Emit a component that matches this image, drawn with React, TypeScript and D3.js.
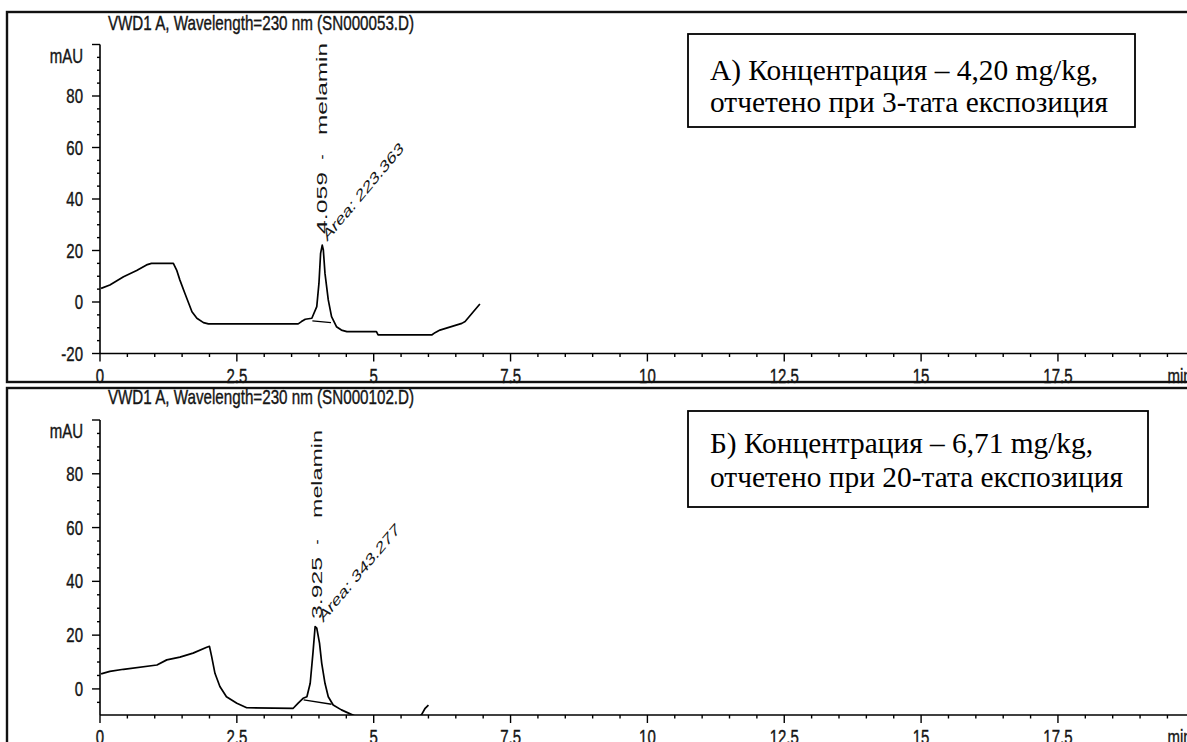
import * as d3 from 'd3';

// x tick values (min) and labels
const xTicks = [0, 2.5, 5, 7.5, 10, 12.5, 15, 17.5];
const xTickLabels = ['0', '2.5', '5', '7.5', '10', '12.5', '15', '17.5'];

// panel A trace, SN000053.D
const timeA = [0.02, 0.18, 0.43, 0.67, 0.85, 0.94, 1.34, 1.40, 1.46, 1.55, 1.68, 1.77, 1.89, 1.98, 3.62, 3.68, 3.75, 3.87, 3.96, 4.00, 4.03, 4.06, 4.08, 4.11, 4.17, 4.23, 4.32, 4.41, 4.51, 5.05, 5.08, 6.06, 6.12, 6.21, 6.61, 6.67, 6.82, 6.94];
const mauA = [5.3, 6.6, 9.8, 12.2, 14.4, 15.0, 15.0, 12.4, 8.5, 3.4, -3.8, -6.3, -8.0, -8.5, -8.5, -7.6, -6.7, -6.3, -1.8, 7.3, 18.9, 22.1, 20.2, 11.1, 0.8, -5.7, -9.6, -10.9, -11.5, -11.5, -12.8, -12.8, -11.9, -10.9, -8.3, -7.6, -3.8, -0.8];
const baseTimeA = [3.88, 4.22];
const baseMauA = [-7.3, -8.0];

// panel B trace, SN000102.D
const timeB = [0.02, 0.18, 0.43, 1.04, 1.22, 1.46, 1.70, 1.95, 2.0, 2.04, 2.1, 2.19, 2.31, 2.5, 2.68, 3.53, 3.62, 3.71, 3.78, 3.84, 3.89, 3.93, 3.96, 4.01, 4.05, 4.11, 4.17, 4.26, 4.41, 4.54, 4.63, 4.8, 5.5, 5.8, 5.88, 5.94, 6.0];
const mauB = [5.6, 6.5, 7.3, 8.9, 10.8, 11.8, 13.3, 15.5, 15.8, 12.0, 5.8, 0.9, -2.9, -5.3, -7.0, -7.2, -5.3, -3.5, -2.9, 2.1, 13.3, 23.2, 22.6, 17.0, 9.6, 2.1, -2.9, -6.0, -7.8, -9.0, -9.8, -11.5, -12, -11, -9.4, -7.2, -6.0];
const baseTimeB = [3.72, 4.23];
const baseMauB = [-4.1, -5.7];

const titles = ['VWD1 A, Wavelength=230 nm (SN000053.D)', 'VWD1 A, Wavelength=230 nm (SN000102.D)'];
const retentionLabels = ['4.059', '3.925'];
const compound = 'melamin';
const areaLabels = ['Area: 223.363', 'Area: 343.277'];
const boxLines = [
    ['А) Концентрация – 4,20 mg/kg,', 'отчетено при 3-тата експозиция'],
    ['Б) Концентрация – 6,71 mg/kg,', 'отчетено при 20-тата експозиция'],
];

const SANS = 'Liberation Sans, Arial, sans-serif';
const SERIF = 'Liberation Serif, Times New Roman, serif';
const INK = '#151515';
const STRETCH = 1.45; // the source picture is taller than it is wide

const x = d3.scaleLinear().domain([0, 20]).range([100, 100 + 20 * 54.74]);

// stretched text
const SText = ({ x, y, sy = 1.3, anchor = 'middle', size = 15, dy = '0', children }: any) => (
    <g transform={`translate(${x},${y}) scale(1,${sy})`}>
        <text textAnchor={anchor} fontFamily={SANS} fontSize={size} dy={dy} fill={INK}
            stroke={INK} strokeWidth={0.3}>{children}</text>
    </g>
);

interface PanelProps {
    top: number;
    bottom: number;
    yDomain: [number, number];
    yRange: [number, number];
    majors: number[];
    minorFrom: number;
    times: number[];
    values: number[];
    baseT: number[];
    baseV: number[];
    idx: number;
    titleY: number;
    mauY: number;
    peak: { x: number; y: number; rtLen: number; dash: number; cmpOff: number; cmpLen: number };
    area: { x: number; y: number };
    box: { x: number; y: number; w: number; h: number; b1: number; b2: number; l1: number; l2: number };
}

const Panel = (p: PanelProps) => {
    const y = d3.scaleLinear().domain(p.yDomain).range(p.yRange);
    const axisY = p.yRange[0];
    const axisTop = p.yRange[1];
    const line = d3.line<number>().x((_, i) => x(p.times[i])).y(v => y(v));
    const baseLine = d3.line<number>().x((_, i) => x(p.baseT[i])).y(v => y(v));
    const minorY = d3.range(p.minorFrom, 100.01, 5).filter(v => !p.majors.includes(v));
    const minorX = d3.range(0, 20.01, 0.5).filter(v => !xTicks.includes(v));
    const clipId = `clip${p.idx}`;
    const pk = p.peak;

    return (
        <g>
            <defs>
                <clipPath id={clipId}>
                    <rect x={100} y={axisTop} width={1100} height={axisY - axisTop} />
                </clipPath>
            </defs>
            <SText x={261} y={p.titleY} sy={1.3} size={15.2}>{titles[p.idx]}</SText>

            {/* y axis */}
            <line x1={100} x2={100} y1={axisTop} y2={axisY} stroke="#000" strokeWidth={1.6} />
            {p.majors.map(v => (
                <line key={'M' + v} x1={92} x2={100} y1={y(v)} y2={y(v)} stroke="#000" strokeWidth={1.4} />
            ))}
            {minorY.map(v => (
                <line key={'m' + v} x1={97} x2={100} y1={y(v)} y2={y(v)} stroke="#000" strokeWidth={1.4} />
            ))}
            {p.majors.filter(v => v < 100).map(v => (
                <SText key={'L' + v} x={83} y={y(v)} anchor="end" dy="0.36em">{String(v)}</SText>
            ))}
            <SText x={83} y={p.mauY} anchor="end">mAU</SText>

            {/* x axis */}
            <line x1={100} x2={1200} y1={axisY} y2={axisY} stroke="#000" strokeWidth={1.6} />
            {xTicks.map(t => (
                <line key={'X' + t} x1={x(t)} x2={x(t)} y1={axisY} y2={axisY + 8} stroke="#000" strokeWidth={1.4} />
            ))}
            {minorX.map(t => (
                <line key={'x' + t} x1={x(t)} x2={x(t)} y1={axisY} y2={axisY + 3.5} stroke="#000" strokeWidth={1.4} />
            ))}
            {xTicks.map((t, i) => (
                <SText key={'XL' + t} x={x(t)} y={axisY + 29} sy={1.4}>{xTickLabels[i]}</SText>
            ))}
            <SText x={x(19.5)} y={axisY + 29} sy={1.4} anchor="start">min</SText>

            {/* trace */}
            <g clipPath={`url(#${clipId})`}>
                <path d={line(p.values) ?? ''} fill="none" stroke="#000" strokeWidth={1.7} strokeLinejoin="round" />
                <path d={baseLine(p.baseV) ?? ''} fill="none" stroke="#000" strokeWidth={1.3} />
            </g>

            {/* peak annotation: retention time, dash, compound */}
            <g transform={`translate(${pk.x},${pk.y}) rotate(-90)`} fontFamily={SANS} fontSize={15} fill={INK}>
                <text x={0} textLength={pk.rtLen} lengthAdjust="spacingAndGlyphs">{retentionLabels[p.idx]}</text>
                <text x={pk.dash} textAnchor="middle">-</text>
                <text x={pk.cmpOff} textLength={pk.cmpLen} lengthAdjust="spacingAndGlyphs">{compound}</text>
            </g>
            <g transform={`translate(${p.area.x},${p.area.y}) scale(1,${STRETCH}) rotate(-39.4)`}>
                <text fontFamily={SANS} fontSize={11.5} fill={INK} textLength={100} lengthAdjust="spacingAndGlyphs">
                    {areaLabels[p.idx]}
                </text>
            </g>

            {/* concentration box */}
            <rect x={p.box.x} y={p.box.y} width={p.box.w} height={p.box.h} fill="#fff" stroke="#000" strokeWidth={1.8} />
            <text x={710} y={p.box.b1} fontFamily={SERIF} fontSize={29} fill="#000" textLength={p.box.l1} lengthAdjust="spacingAndGlyphs">
                {boxLines[p.idx][0]}
            </text>
            <text x={710} y={p.box.b2} fontFamily={SERIF} fontSize={29} fill="#000" textLength={p.box.l2} lengthAdjust="spacingAndGlyphs">
                {boxLines[p.idx][1]}
            </text>

            {/* frame */}
            <rect x={7} y={p.top} width={1200} height={p.bottom - p.top} fill="none" stroke="#111" strokeWidth={2.4} />
        </g>
    );
};

const App = () => (
    <div style={{ position: 'absolute', left: 0, top: 0 }}>
        <svg width={1187} height={742} style={{ display: 'block', background: '#fff' }}>
            <Panel
                idx={0}
                top={12}
                bottom={382}
                yDomain={[-20, 100]}
                yRange={[353.5, 44.5]}
                majors={[-20, 0, 20, 40, 60, 80, 100]}
                minorFrom={-20}
                times={timeA}
                values={mauA}
                baseT={baseTimeA}
                baseV={baseMauA}
                titleY={30}
                mauY={63}
                peak={{ x: 327, y: 234, rtLen: 62, dash: 77, cmpOff: 99, cmpLen: 92 }}
                area={{ x: 327, y: 242 }}
                box={{ x: 688, y: 34, w: 447, h: 93, b1: 80, b2: 112, l1: 388, l2: 398 }}
            />
            <Panel
                idx={1}
                top={388}
                bottom={800}
                yDomain={[-9.7, 100]}
                yRange={[715, 420]}
                majors={[0, 20, 40, 60, 80, 100]}
                minorFrom={-5}
                times={timeB}
                values={mauB}
                baseT={baseTimeB}
                baseV={baseMauB}
                titleY={404}
                mauY={438}
                peak={{ x: 322, y: 619, rtLen: 62, dash: 77, cmpOff: 101, cmpLen: 88 }}
                area={{ x: 323, y: 623 }}
                box={{ x: 688, y: 411, w: 460, h: 96, b1: 453, b2: 487, l1: 383, l2: 413 }}
            />
        </svg>
    </div>
);

export default App;
